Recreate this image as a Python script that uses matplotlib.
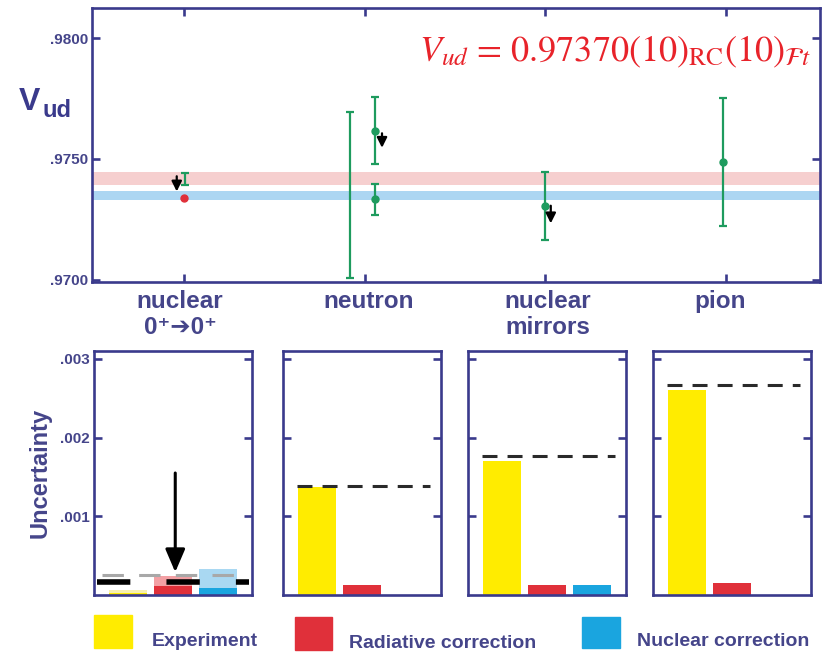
import numpy as np
import matplotlib.pyplot as plt
from matplotlib.patches import Rectangle

NAVY = '#3a3a8c'
LABEL = '#45458a'
GREEN = '#1e9b5e'
YELLOW = '#ffec00'
RED = '#e0303a'
BLUE = '#1aa5df'
SANS = ['Liberation Sans', 'DejaVu Sans']

# ---- upper panel: Vud from the four methods
cat_names = ['nuclear\n0⁺➔0⁺', 'neutron', 'nuclear\nmirrors', 'pion']
cat_pos = [1, 2, 3, 4]
label_pos = [0.978, 2.024, 3.015, 3.966]

pt_x = [1.005, 1.919, 2.057, 2.057, 3.0, 3.985]
pt_y = [0.97417, 0.97352, 0.97617, 0.97333, 0.97304, 0.97487]
pt_err = [0.00025, 0.00344, 0.0014, 0.00065, 0.0014, 0.00267]
pt_dot = [False, False, True, True, True, True]

red_x = [1.0]
red_y = [0.97338]

arr_x = [0.96, 2.096, 3.03]
arr_from = [0.97428, 0.97606, 0.97306]
arr_to = [0.97365, 0.97546, 0.97233]

band_c = [0.97419, 0.97348]
band_hw = [0.00027, 0.0002]
band_col = ['#f6cfcf', '#acd6f2']

# ---- lower panels: uncertainty budget
exp_unc = [0.00002, 0.00137, 0.0017, 0.0026]
rc_unc = [0.00011, 0.000126, 0.000126, 0.00015]
nuc_unc = [0.00009, np.nan, 0.000126, np.nan]
tot_unc = [0.00016, 0.00138, 0.00176, 0.00267]
# earlier evaluation for 0+ -> 0+ (faded bars)
old_unc = [0.00006, 0.00024, 0.00033]
old_tot = 0.00026

W, H = 823, 653
fig = plt.figure(figsize=(W / 100, H / 100), dpi=100)


def fr(x0, y0, x1, y1):
    return [x0 / W, 1 - y1 / H, (x1 - x0) / W, (y1 - y0) / H]


def frame(ax):
    for s in ax.spines.values():
        s.set_color(NAVY)
        s.set_linewidth(1.9)


# upper panel
ax = fig.add_axes(fr(92, 8, 820, 282))
frame(ax)
for c, hw, col in zip(band_c, band_hw, band_col):
    ax.axhspan(c - hw, c + hw, color=col, lw=0, zorder=1)
for x, y, e, d in zip(pt_x, pt_y, pt_err, pt_dot):
    ax.errorbar(x, y, yerr=e, fmt='o' if d else 'none', color=GREEN, ms=5,
                elinewidth=1.6, capsize=3, capthick=1.6, zorder=3)
ax.plot(red_x, red_y, 'o', color=RED, ms=5, zorder=4)
for x, a, b in zip(arr_x, arr_from, arr_to):
    ax.annotate('', xy=(x, b), xytext=(x, a),
                arrowprops=dict(arrowstyle='-|>,head_length=0.6,head_width=0.3',
                                color='k', lw=1.6, shrinkA=0, shrinkB=0), zorder=5)
ax.set_xlim(0.491, 4.52)
ax.set_ylim(0.9699, 0.98125)
ax.set_xticks(cat_pos)
ax.set_xticklabels([])
ax.set_yticks([0.970, 0.975, 0.980])
ax.set_yticklabels(['.9700', '.9750', '.9800'])
ax.tick_params(axis='both', direction='in', length=6, width=1.9, color=NAVY,
               top=True, right=True, pad=3)
ax.tick_params(axis='y', labelsize=11, labelcolor=LABEL)
for t in ax.get_yticklabels():
    t.set_fontweight('bold')
    t.set_family(SANS)
for x, name in zip(label_pos, cat_names):
    ax.text(x, -0.03, name, transform=ax.get_xaxis_transform(), ha='center', va='top',
            fontsize=17.5, fontweight='bold', color=LABEL, family=SANS, linespacing=1.15)
ax.text(0.987, 0.84, r'$V_{ud}$ = 0.97370(10)$_{\rm RC}$(10)$_{\mathcal{F}t}$',
        transform=ax.transAxes, ha='right', va='center', fontsize=26, color='#e8232a',
        family='STIXGeneral', math_fontfamily='stix')
fig.text(19 / W, 1 - 110 / H, 'V', fontsize=23, fontweight='bold', color=NAVY,
         family=SANS, va='baseline')
fig.text(42 / W, 1 - 117 / H, 'ud', fontsize=17, fontweight='bold', color=NAVY,
         family=SANS, va='baseline')

# lower panels
lefts = [94, 283, 468, 653]
bx = np.arange(3)
bw = 0.84
for i, l in enumerate(lefts):
    a = fig.add_axes(fr(l, 351, l + 158, 595))
    frame(a)
    vals = [exp_unc[i], rc_unc[i], nuc_unc[i]]
    if i == 0:
        a.bar(bx, old_unc, bw, color=['#f7efb0', '#f3a0a4', '#a9d8f2'], zorder=1)
        a.axhline(old_tot, xmin=0.05, xmax=0.95, color='#a8a8a8', lw=2.2,
                  dashes=(7, 5), zorder=3)
        a.bar(bx, vals, bw, color=[YELLOW, RED, BLUE], zorder=2)
        a.axhline(tot_unc[i], xmin=0.02, xmax=0.98, color='k', lw=4,
                  dashes=(6, 6.5), zorder=4)
        a.annotate('', xy=(1.05, 0.00029), xytext=(1.05, 0.00155),
                   arrowprops=dict(arrowstyle='-|>,head_length=0.7,head_width=0.3',
                                   mutation_scale=20, color='k', lw=2.2,
                                   shrinkA=0, shrinkB=0), zorder=5)
    else:
        a.bar(bx, vals, bw, color=[YELLOW, RED, BLUE], zorder=2)
        a.hlines(tot_unc[i], -0.45, 2.52, color='#2a2a2a', lw=2.2,
                 linestyles=(0, (4.9, 3.3)), zorder=4)
    a.set_xlim(-0.756, 2.756)
    a.set_ylim(0, 0.0031)
    a.set_xticks([])
    a.set_yticks([0.001, 0.002, 0.003])
    a.tick_params(axis='y', direction='in', length=6, width=1.9, color=NAVY,
                  right=True, pad=3, labelsize=11, labelcolor=LABEL)
    if i == 0:
        a.set_yticklabels(['.001', '.002', '.003'])
        for t in a.get_yticklabels():
            t.set_fontweight('bold')
            t.set_family(SANS)
        a.set_ylabel('Uncertainty', fontsize=17, fontweight='bold', color=LABEL,
                     family=SANS, labelpad=6)
    else:
        a.set_yticklabels([])

# legend
leg_col = [YELLOW, RED, BLUE]
leg_txt = ['Experiment', 'Radiative correction', 'Nuclear correction']
leg_box = [(94, 615, 132, 648), (295, 617, 332, 650), (582, 617, 620, 648)]
leg_tx = [152, 349, 637]
leg_ty = [641, 643, 641]
for c, t, b, tx, ty in zip(leg_col, leg_txt, leg_box, leg_tx, leg_ty):
    x0, y0, x1, y1 = b
    fig.patches.append(Rectangle((x0 / W, 1 - y1 / H), (x1 - x0) / W, (y1 - y0) / H,
                                 transform=fig.transFigure, color=c))
    fig.text(tx / W, 1 - ty / H, t, fontsize=14, fontweight='bold', color=LABEL,
             family=SANS, va='center')

fig.savefig('out.png', dpi=100)
